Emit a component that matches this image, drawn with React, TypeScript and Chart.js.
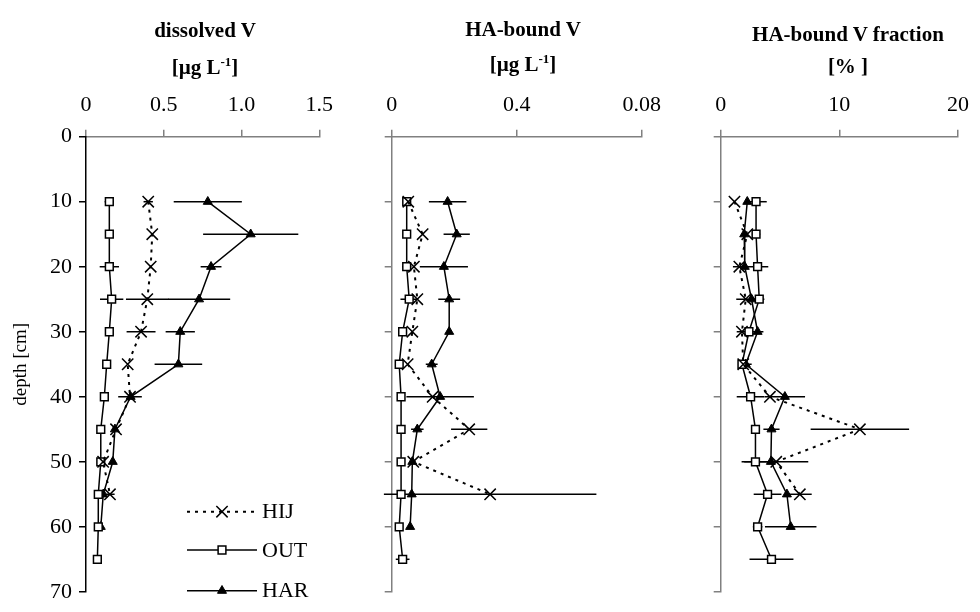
import React, { useEffect, useRef } from 'react';
import { Chart, registerables } from 'chart.js';
import { drawPoint } from 'chart.js/helpers';

Chart.register(...registerables);

const FONT = '"Liberation Serif", "Times New Roman", Times, serif';

// Sampling depths [cm] per site
const depthHIJ = [10, 15, 20, 25, 30, 35, 40, 45, 50, 55];
const depthOUT = [10, 15, 20, 25, 30, 35, 40, 45, 50, 55, 60, 65];
const depthHAR = [10, 15, 20, 25, 30, 35, 40, 45, 50, 55, 60];

const seriesNames = ['HIJ', 'OUT', 'HAR'];

// Dissolved V [µg/L] and standard deviations
const dissHIJ = [0.4, 0.426, 0.416, 0.394, 0.354, 0.268, 0.283, 0.193, 0.11, 0.154];
const dissHIJErr = [0.03, 0, 0, 0.137, 0.093, 0, 0.076, 0, 0, 0.03];
const dissOUT = [0.15, 0.15, 0.15, 0.165, 0.15, 0.133, 0.118, 0.095, 0.095, 0.079, 0.079, 0.073];
const dissOUTErr = [0.03, 0, 0.062, 0.075, 0, 0, 0, 0, 0, 0, 0, 0];
const dissHAR = [0.783, 1.059, 0.804, 0.727, 0.606, 0.594, 0.287, 0.186, 0.172, 0.111, 0.095];
const dissHARErr = [0.219, 0.306, 0.067, 0.2, 0.094, 0.153, 0, 0, 0, 0, 0];

// HA-bound V [µg/L]
const haHIJ = [0.0053, 0.0099, 0.0071, 0.0082, 0.0066, 0.0051, 0.0131, 0.0248, 0.0069, 0.0315];
const haHIJErr = [0, 0, 0, 0, 0, 0, 0, 0.0058, 0, 0.034];
const haOUT = [0.0048, 0.0048, 0.0048, 0.0056, 0.0035, 0.0024, 0.003, 0.003, 0.003, 0.003, 0.0024, 0.0035];
const haOUTErr = [0.001, 0, 0.0015, 0.0028, 0, 0, 0, 0, 0, 0, 0, 0.0022];
const haHAR = [0.0179, 0.0208, 0.0167, 0.0184, 0.0184, 0.0128, 0.0155, 0.0082, 0.0066, 0.0064, 0.0059];
const haHARErr = [0.006, 0.0042, 0.0077, 0.0035, 0, 0.0019, 0.0108, 0.002, 0, 0, 0];

// HA-bound V fraction [%]
const fracHIJ = [1.16, 2.24, 1.57, 2.11, 1.79, 1.9, 4.15, 11.73, 4.68, 6.67];
const fracHIJErr = [0, 0, 0.54, 0.8, 0.44, 0, 0, 4.15, 2.7, 1.0];
const fracOUT = [2.98, 2.98, 3.11, 3.25, 2.38, 1.79, 2.52, 2.93, 2.93, 3.95, 3.11, 4.28];
const fracOUTErr = [0.9, 0.35, 0.9, 0.43, 0, 0, 1.17, 0, 1.17, 1.17, 0.4, 1.85];
const fracHAR = [2.24, 1.98, 2.03, 2.6, 3.11, 2.11, 5.41, 4.28, 4.23, 5.58, 5.9];
const fracHARErr = [0, 0, 0, 0, 0.49, 0.5, 1.7, 0.68, 0, 0, 2.17];

// Axis ticks
const depthTicks = [0, 10, 20, 30, 40, 50, 60, 70];
const depthTickLabels = ['0', '10', '20', '30', '40', '50', '60', '70'];
const dissTicks = [0, 0.5, 1.0, 1.5];
const dissTickLabels = ['0', '0.5', '1.0', '1.5'];
const haTicks = [0, 0.04, 0.08];
const haTickLabels = ['0', '0.4', '0.08'];
const fracTicks = [0, 10, 20];
const fracTickLabels = ['0', '10', '20'];

const seriesStyles: any[] = [
  {
    borderColor: '#000',
    borderWidth: 2,
    borderDash: [3, 5],
    pointStyle: 'crossRot',
    pointRadius: 8,
    pointBorderWidth: 1.5,
    pointBorderColor: '#000',
    pointBackgroundColor: '#000',
  },
  {
    borderColor: '#000',
    borderWidth: 1.5,
    pointStyle: 'rect',
    pointRadius: 5.5,
    pointBorderWidth: 1.5,
    pointBorderColor: '#000',
    pointBackgroundColor: '#fff',
  },
  {
    borderColor: '#000',
    borderWidth: 1.5,
    pointStyle: 'triangle',
    pointRadius: 5.2,
    pointBorderWidth: 1,
    pointBorderColor: '#000',
    pointBackgroundColor: '#000',
  },
];

// Horizontal error bars, drawn underneath the markers
const errorBarPlugin = {
  id: 'errorBars',
  beforeDatasetsDraw(chart: any) {
    const { ctx } = chart;
    const xs = chart.scales.x;
    const ys = chart.scales.y;
    ctx.save();
    ctx.strokeStyle = '#000';
    ctx.lineWidth = 1.5;
    ctx.setLineDash([]);
    chart.data.datasets.forEach((ds: any) => {
      const errs: number[] = ds.errorX || [];
      ds.data.forEach((p: any, i: number) => {
        const e = errs[i];
        if (!e) return;
        const y = ys.getPixelForValue(p.y);
        ctx.beginPath();
        ctx.moveTo(xs.getPixelForValue(p.x - e), y);
        ctx.lineTo(xs.getPixelForValue(p.x + e), y);
        ctx.stroke();
      });
    });
    ctx.restore();
  },
};

// Series key placed inside the first panel
const keyPlugin = {
  id: 'depthKey',
  afterDraw(chart: any) {
    const { ctx } = chart;
    const rows = [511.7, 550, 590.7];
    const x0 = 187;
    const x1 = 257;
    const xm = 222;
    ctx.save();
    chart.data.datasets.forEach((ds: any, k: number) => {
      const y = rows[k];
      ctx.strokeStyle = ds.borderColor;
      ctx.lineWidth = ds.borderWidth;
      ctx.setLineDash(ds.borderDash || []);
      ctx.beginPath();
      ctx.moveTo(x0, y);
      ctx.lineTo(x1, y);
      ctx.stroke();
      ctx.setLineDash([]);
      ctx.fillStyle = ds.pointBackgroundColor;
      ctx.strokeStyle = ds.pointBorderColor;
      ctx.lineWidth = ds.pointBorderWidth;
      drawPoint(ctx, { pointStyle: ds.pointStyle, radius: ds.pointRadius, borderWidth: ds.pointBorderWidth, rotation: 0 } as any, xm, y);
      ctx.fillStyle = '#000';
      ctx.font = `22px ${FONT}`;
      ctx.textAlign = 'left';
      ctx.textBaseline = 'middle';
      ctx.fillText(ds.label, x1 + 5, y + 1);
    });
    ctx.restore();
  },
};

type Area = { left: number; right: number; top: number; bottom: number };

type PanelProps = {
  area: Area;
  xTicks: number[];
  xTickLabels: string[];
  values: number[][];
  errors: number[][];
  first: boolean;
};

function DepthPanel({ area, xTicks, xTickLabels, values, errors, first }: PanelProps) {
  const ref = useRef<HTMLCanvasElement>(null);

  useEffect(() => {
    const canvas = ref.current;
    if (!canvas) return;
    const depths = [depthHIJ, depthOUT, depthHAR];
    const yW = first ? area.left : 20;
    const xH = 50;
    const yColor = first ? '#000' : '#808080';

    const datasets = seriesNames.map((name, k) => ({
      label: name,
      data: values[k].map((v, i) => ({ x: v, y: depths[k][i] })),
      errorX: errors[k],
      showLine: true,
      clip: false,
      ...seriesStyles[k],
    }));

    const chart = new Chart(canvas, {
      type: 'scatter',
      data: { datasets } as any,
      options: {
        animation: false,
        responsive: false,
        devicePixelRatio: 1,
        events: [],
        layout: {
          padding: {
            left: area.left - yW,
            top: area.top - xH,
            right: 980 - area.right,
            bottom: 612 - area.bottom,
          },
        },
        plugins: {
          legend: { display: false },
          tooltip: { enabled: false },
        },
        scales: {
          x: {
            type: 'linear',
            position: 'top',
            min: xTicks[0],
            max: xTicks[xTicks.length - 1],
            afterBuildTicks: (s: any) => {
              s.ticks = xTicks.map((v) => ({ value: v }));
            },
            afterFit: (s: any) => {
              s.height = xH;
            },
            ticks: {
              callback: (_v: any, i: number) => xTickLabels[i],
              font: { family: FONT, size: 22 },
              color: '#000',
              padding: 11,
              maxRotation: 0,
              autoSkip: false,
            },
            grid: { drawOnChartArea: false, drawTicks: true, tickLength: 7, tickColor: '#808080', lineWidth: 1.5 },
            border: { color: '#808080', width: 1.5 },
          },
          y: {
            type: 'linear',
            reverse: true,
            min: 0,
            max: 70,
            afterBuildTicks: (s: any) => {
              s.ticks = depthTicks.map((v) => ({ value: v }));
            },
            afterFit: (s: any) => {
              s.width = yW;
            },
            ticks: {
              callback: (_v: any, i: number) => (first ? depthTickLabels[i] : ''),
              font: { family: FONT, size: 22 },
              color: '#000',
              padding: 7,
              autoSkip: false,
            },
            grid: { drawOnChartArea: false, drawTicks: true, tickLength: 7, tickColor: yColor, lineWidth: 1.5 },
            border: { color: yColor, width: 1.5 },
            title: {
              display: first,
              text: 'depth [cm]',
              font: { family: FONT, size: 19 },
              color: '#000',
              padding: { top: 10, bottom: 0 },
            },
          },
        },
      } as any,
      plugins: first ? [errorBarPlugin, keyPlugin] : [errorBarPlugin],
    });

    return () => chart.destroy();
  }, []);

  return (
    <canvas
      ref={ref}
      width={980}
      height={612}
      style={{ position: 'absolute', left: 0, top: 0, width: 980, height: 612 }}
    />
  );
}

function TitleLine({ cx, cy, children }: { cx: number; cy: number; children: React.ReactNode }) {
  return (
    <div
      style={{
        position: 'absolute',
        left: cx - 160,
        width: 320,
        top: cy - 13.2,
        height: 26,
        lineHeight: '26px',
        textAlign: 'center',
        font: `bold 21px ${FONT}`,
        color: '#000',
        whiteSpace: 'nowrap',
      }}
    >
      {children}
    </div>
  );
}

const Sup = ({ children }: { children: React.ReactNode }) => (
  <span style={{ fontSize: 13, position: 'relative', top: -8 }}>{children}</span>
);

export default function App() {
  return (
    <div style={{ position: 'absolute', left: 0, top: 0, width: 980, height: 612, background: '#fff', overflow: 'hidden' }}>
      <DepthPanel
        area={{ left: 86, right: 319.3, top: 136.7, bottom: 602 }}
        xTicks={dissTicks}
        xTickLabels={dissTickLabels}
        values={[dissHIJ, dissOUT, dissHAR]}
        errors={[dissHIJErr, dissOUTErr, dissHARErr]}
        first
      />
      <DepthPanel
        area={{ left: 391.7, right: 641.7, top: 136.7, bottom: 602 }}
        xTicks={haTicks}
        xTickLabels={haTickLabels}
        values={[haHIJ, haOUT, haHAR]}
        errors={[haHIJErr, haOUTErr, haHARErr]}
        first={false}
      />
      <DepthPanel
        area={{ left: 720.7, right: 966.7, top: 136.7, bottom: 602 }}
        xTicks={fracTicks}
        xTickLabels={fracTickLabels}
        values={[fracHIJ, fracOUT, fracHAR]}
        errors={[fracHIJErr, fracOUTErr, fracHARErr]}
        first={false}
      />

      <TitleLine cx={205} cy={31}>dissolved V</TitleLine>
      <TitleLine cx={205} cy={68}>
        [µg L<Sup>-1</Sup>]
      </TitleLine>
      <TitleLine cx={523} cy={30}>HA-bound V</TitleLine>
      <TitleLine cx={523} cy={65}>
        [µg L<Sup>-1</Sup>]
      </TitleLine>
      <TitleLine cx={848} cy={35}>HA-bound V fraction</TitleLine>
      <TitleLine cx={848} cy={67}>[% ]</TitleLine>
    </div>
  );
}
